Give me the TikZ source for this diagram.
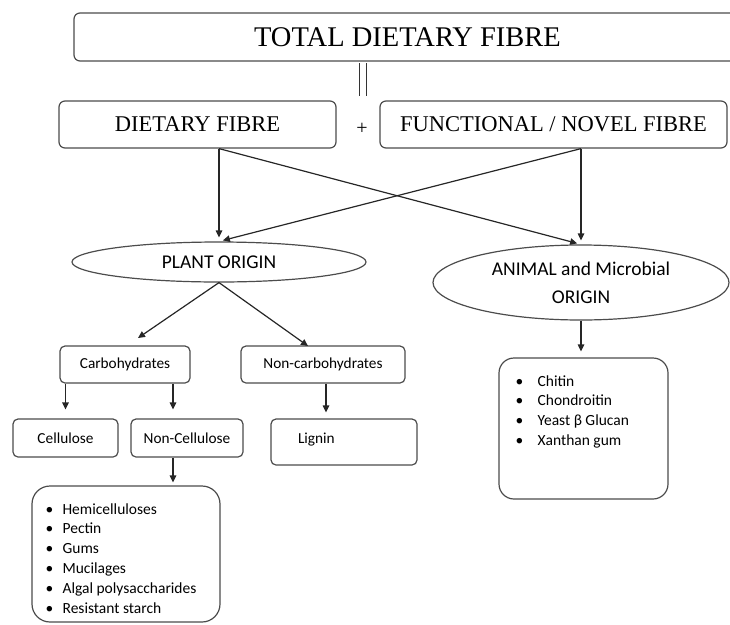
\documentclass[tikz,border=0pt]{standalone}
\usepackage{fontspec}
\setmainfont{Liberation Serif}
\newfontfamily\calfont{Carlito}
\usetikzlibrary{arrows.meta,shapes.geometric}
\begin{document}
\begin{tikzpicture}[x=1pt,y=-1pt,
  line width=1.2pt,
  box/.style={draw=black!70, rounded corners=6pt, inner sep=0pt},
  sbox/.style={box, rounded corners=5pt, font=\calfont\fontsize{15.3}{18}\selectfont},
  lbox/.style={draw=black!70, rounded corners=18pt, inner sep=0pt},
  oval/.style={draw=black!70, ellipse, inner sep=0pt, align=center, font=\calfont\fontsize{19.5}{28}\selectfont},
  arr/.style={draw=black!85, -{Triangle[length=7pt,width=6.5pt]}},
  con/.style={draw=black!80, line width=1pt},
  itm/.style={anchor=base west, inner sep=0pt, font=\calfont\fontsize{15.5}{19}\selectfont},
  ser/.style={font=\fontsize{22.5}{24}\selectfont},
]
\useasboundingbox (0,0) rectangle (730,624);

% top row
\node[box, minimum width=667pt, minimum height=48pt, font=\fontsize{28.5}{30}\selectfont] (tdf) at (407.5,37) {TOTAL DIETARY FIBRE};
\coordinate (eqa) at (362.5,63);
\coordinate (eqb) at (362.5,96);
\draw[con, double, double distance=6pt] (eqa) -- (eqb);

\node[box, ser, minimum width=277pt, minimum height=47pt] (df) at (197.5,124.5) {DIETARY FIBRE};
\node[inner sep=0pt, font=\fontsize{20}{22}\selectfont] (plus) at (362,129) {+};
\node[box, ser, minimum width=347pt, minimum height=47pt] (fn) at (553.5,124.5) {FUNCTIONAL / NOVEL FIBRE};

% origins
\node[oval, minimum width=294pt, minimum height=40pt] (pl) at (219,262) {PLANT ORIGIN};
\node[oval, minimum width=296pt, minimum height=75pt] (an) at (581,282.5) {ANIMAL and Microbial\\ORIGIN};

% plant branch
\node[sbox, minimum width=130pt, minimum height=37pt] (cb) at (125,364.5) {Carbohydrates};
\node[sbox, minimum width=164pt, minimum height=37pt] (nc) at (323,364.5) {Non-carbohydrates};
\node[sbox, minimum width=105pt, minimum height=38pt] (cel) at (65.5,438) {Cellulose};
\node[sbox, minimum width=112pt, minimum height=38pt] (nce) at (187,438) {Non-Cellulose};
\node[sbox, minimum height=46pt, text width=92pt, inner xsep=27pt, align=left] (lig) at (344,442) {\raisebox{7pt}{Lignin}};

% list boxes
\node[lbox, minimum width=188pt, minimum height=136pt] (plist) at (126,554) {};
\node[lbox, rounded corners=15pt, minimum width=169pt, minimum height=141pt] (alist) at (583.5,428.5) {};

\foreach \t [count=\i] in {Hemicelluloses,Pectin,Gums,Mucilages,Algal polysaccharides,Resistant starch}
  \node[itm] (pi\i) at (45,{514+19.8*(\i-1)}) {\makebox[17pt][l]{•}\t};
\foreach \t [count=\i] in {Chitin,Chondroitin,Yeast β Glucan,Xanthan gum}
  \node[itm] (ai\i) at (515,{386+19.7*(\i-1)}) {\makebox[22pt][l]{•}\t};

% connectors
\draw[arr, shorten >=4pt] (df.south -| pl.north) -- (pl.north);
\draw[arr, shorten >=4pt] (df.south -| pl.north) -- (an.north);
\draw[arr, shorten >=4pt] (fn.south -| an.north) -- (an.north);
\draw[arr, shorten >=4pt] (fn.south -| an.north) -- (pl.north);

\coordinate (cbtip) at (138,338);
\coordinate (nctip) at (308,346);
\draw[arr] (pl.south) -- (cbtip);
\draw[arr] (pl.south) -- (nctip);

\draw[arr, shorten >=9pt] (cb.south -| cel.north) -- (cel.north);
\coordinate (ncex) at ([xshift=-14pt]nce.north);
\draw[arr, shorten >=9pt] (ncex |- cb.south) -- (ncex);
\coordinate (ncx) at ([xshift=3pt]nc.south);
\draw[arr, shorten >=6pt] (ncx) -- (ncx |- lig.north);
\coordinate (ncsx) at ([xshift=-14pt]nce.south);
\draw[arr, shorten >=3pt] (ncsx) -- (ncsx |- plist.north);
\draw[arr, shorten >=6pt] (an.south) -- (an.south |- alist.north);
\end{tikzpicture}
\end{document}
